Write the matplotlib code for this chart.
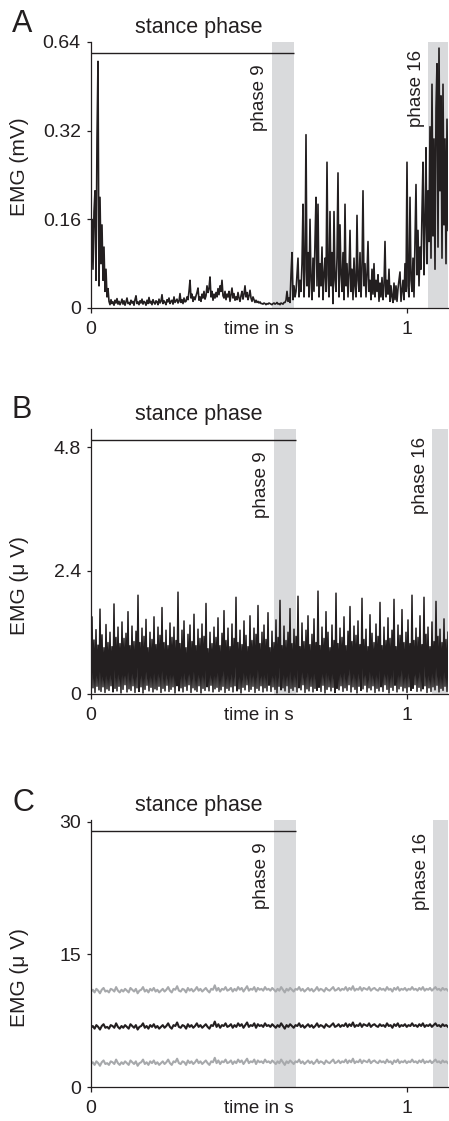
import numpy as np
import matplotlib
matplotlib.use("Agg")
import matplotlib.pyplot as plt

plt.rcParams["font.family"] = ["Liberation Sans", "DejaVu Sans"]

# ---- data ----
t_end = 1.13  # s, right edge of the time axis

# panel A: EMG in mV, one sample every ~3 ms
emg_a = [
    0.12, 0.16, 0.07, 0.17, 0.20, 0.05, 0.30, 0.55, 0.04, 0.19,
    0.08, 0.15, 0.05, 0.11, 0.03, 0.07, 0.02, 0.035,
    0.012, 0.006, 0.015, 0.008, 0.011, 0.005, 0.014, 0.009, 0.017, 0.007,
    0.012, 0.006, 0.010, 0.016, 0.007, 0.013, 0.005, 0.011, 0.018, 0.008,
    0.010, 0.006, 0.014, 0.009, 0.012, 0.005, 0.015, 0.022, 0.008, 0.011,
    0.006, 0.013, 0.009, 0.016, 0.007, 0.012, 0.010, 0.005, 0.014, 0.008,
    0.019, 0.009, 0.012, 0.006, 0.015, 0.010, 0.007, 0.013, 0.011, 0.006,
    0.016, 0.009, 0.012, 0.024, 0.008, 0.013, 0.010, 0.006, 0.015, 0.011,
    0.018, 0.008, 0.012, 0.014, 0.007, 0.020, 0.010, 0.013, 0.016, 0.009,
    0.012, 0.026, 0.010, 0.015, 0.008, 0.018, 0.011,
    0.012, 0.02, 0.015, 0.03, 0.05, 0.018, 0.025, 0.012, 0.02, 0.015,
    0.022, 0.028, 0.036, 0.014, 0.02, 0.012, 0.025, 0.018, 0.03, 0.016,
    0.022, 0.04, 0.028, 0.035, 0.056, 0.02, 0.03, 0.014, 0.025, 0.018,
    0.028, 0.02, 0.035, 0.024, 0.04, 0.03, 0.05, 0.022, 0.018, 0.03,
    0.015, 0.025, 0.02, 0.03, 0.012, 0.024, 0.036, 0.018, 0.026, 0.014,
    0.02, 0.015, 0.028, 0.018, 0.012, 0.022, 0.03, 0.016, 0.025, 0.04,
    0.02, 0.028, 0.015, 0.022, 0.032, 0.018, 0.012, 0.02, 0.015, 0.01,
    0.014, 0.01, 0.012, 0.009, 0.011, 0.008,
    0.008, 0.007, 0.009, 0.008, 0.006, 0.008, 0.007, 0.009, 0.008, 0.007,
    0.006, 0.008, 0.009, 0.007, 0.008, 0.01, 0.007, 0.008, 0.006, 0.009,
    0.008, 0.007, 0.01,
    0.01, 0.014, 0.03, 0.012, 0.018, 0.01, 0.06, 0.10,
    0.015, 0.04, 0.02,
    0.03, 0.06, 0.09, 0.02, 0.05, 0.03, 0.08, 0.18, 0.02, 0.07,
    0.31, 0.04, 0.1, 0.02, 0.16, 0.05, 0.015, 0.09, 0.03, 0.12,
    0.19, 0.04, 0.18, 0.02, 0.08, 0.04, 0.11, 0.015, 0.06, 0.09,
    0.03, 0.25, 0.06, 0.02, 0.17, 0.04, 0.1, 0.008, 0.17, 0.05,
    0.03, 0.09, 0.23, 0.02, 0.15, 0.06, 0.03, 0.1, 0.015, 0.18,
    0.04, 0.08, 0.02, 0.06, 0.14, 0.03, 0.07, 0.015, 0.09, 0.04,
    0.02, 0.165, 0.05, 0.03, 0.1, 0.02, 0.07, 0.2, 0.04, 0.08,
    0.02, 0.06, 0.12, 0.03, 0.05, 0.015, 0.07, 0.025, 0.08, 0.02,
    0.05, 0.03, 0.06, 0.012, 0.045, 0.02, 0.055, 0.015, 0.04, 0.12,
    0.02, 0.05, 0.025, 0.07, 0.012, 0.04, 0.02, 0.01, 0.045, 0.015,
    0.04, 0.012, 0.035, 0.05, 0.065, 0.012,
    0.03, 0.05, 0.015, 0.08, 0.03, 0.25, 0.04, 0.02, 0.19, 0.05,
    0.03, 0.09, 0.02, 0.12, 0.21,
    0.06, 0.14, 0.04, 0.11, 0.07, 0.17, 0.25, 0.06, 0.15, 0.28,
    0.08, 0.2, 0.12, 0.33, 0.09, 0.46, 0.13, 0.3, 0.07, 0.38,
    0.54, 0.11, 0.61, 0.2, 0.42, 0.09, 0.46, 0.15, 0.3, 0.08,
    0.35, 0.14,
]

# panel B: EMG in uV
emg_b = [
    0.06, 1.50, 0.12, 1.05, 0.03, 1.25, 0.15, 0.95, 0.08, 1.65, 0.05, 1.15, 0.14, 0.90, 0.03, 1.35, 0.10, 1.00, 0.07, 1.20,
    0.16, 0.92, 0.04, 1.75, 0.11, 1.10, 0.06, 1.30, 0.15, 0.98, 0.02, 1.40, 0.09, 1.08, 0.18, 1.18, 0.04, 1.60, 0.10, 0.94,
    0.07, 1.32, 0.16, 1.02, 0.03, 1.22, 0.12, 1.92, 0.05, 1.00, 0.14, 1.28, 0.02, 1.12, 0.09, 1.45, 0.17, 0.90, 0.06, 1.20,
    0.13, 1.06, 0.04, 1.50, 0.10, 0.96, 0.08, 1.30, 0.15, 1.14, 0.03, 1.68, 0.11, 1.00, 0.06, 1.24, 0.17, 0.94, 0.05, 1.38,
    0.09, 1.10, 0.14, 1.30, 0.02, 1.04, 0.16, 1.98, 0.06, 0.98, 0.12, 1.24, 0.04, 1.42, 0.15, 0.90, 0.07, 1.16, 0.18, 1.34,
    0.03, 1.02, 0.12, 1.55, 0.08, 0.94, 0.05, 1.26, 0.16, 1.08, 0.02, 1.36, 0.11, 1.12, 0.07, 1.76, 0.14, 0.88, 0.06, 1.20,
    0.17, 0.98, 0.04, 1.30, 0.10, 1.10, 0.13, 1.48, 0.05, 0.94, 0.08, 1.18, 0.15, 1.62, 0.03, 1.04, 0.11, 1.28, 0.07, 0.92,
    0.14, 1.36, 0.04, 1.08, 0.16, 1.88, 0.06, 1.00, 0.10, 1.24, 0.02, 0.96, 0.13, 1.42, 0.08, 1.14, 0.18, 0.92, 0.05, 1.52,
    0.09, 1.04, 0.15, 1.28, 0.03, 1.16, 0.11, 1.72, 0.07, 0.98, 0.16, 1.20, 0.04, 1.34, 0.12, 1.06, 0.06, 1.58, 0.17, 0.90,
    0.05, 1.22, 0.14, 1.00, 0.09, 1.44, 0.02, 1.10, 0.15, 1.82, 0.08, 0.94, 0.12, 1.32, 0.06, 1.04, 0.16, 1.20, 0.03, 1.66,
    0.11, 0.98, 0.07, 1.26, 0.14, 1.12, 0.04, 1.90, 0.12, 0.92, 0.08, 1.38, 0.18, 1.02, 0.03, 1.24, 0.10, 1.52, 0.06, 0.96,
    0.15, 1.16, 0.04, 1.46, 0.11, 1.00, 0.07, 2.00, 0.13, 0.94, 0.05, 1.30, 0.17, 1.08, 0.02, 1.60, 0.09, 1.20, 0.14, 0.90,
    0.06, 1.34, 0.13, 1.04, 0.03, 1.96, 0.11, 0.98, 0.08, 1.28, 0.16, 1.10, 0.05, 1.50, 0.12, 0.94, 0.07, 1.22, 0.18, 1.70,
    0.04, 1.02, 0.14, 1.32, 0.09, 1.14, 0.02, 1.42, 0.15, 0.96, 0.07, 1.86, 0.10, 1.06, 0.17, 1.26, 0.04, 0.92, 0.12, 1.54,
    0.08, 1.18, 0.16, 1.00, 0.03, 1.36, 0.11, 1.12, 0.06, 1.78, 0.14, 0.94, 0.05, 1.30, 0.18, 1.04, 0.09, 1.48, 0.02, 1.08,
    0.13, 1.24, 0.07, 1.84, 0.17, 0.92, 0.04, 1.34, 0.10, 1.14, 0.15, 1.64, 0.06, 1.00, 0.12, 1.20, 0.03, 1.44, 0.14, 0.98,
    0.07, 1.92, 0.11, 1.04, 0.18, 1.28, 0.05, 1.10, 0.13, 1.52, 0.06, 0.96, 0.10, 1.88, 0.16, 1.16, 0.03, 1.30, 0.12, 0.92,
    0.05, 1.40, 0.14, 1.02, 0.08, 1.80, 0.17, 1.12, 0.04, 1.26, 0.11, 1.00, 0.07, 1.46, 0.15, 1.06, 0.05, 1.20,
]

# panel C: mean EMG in uV, plus/minus one SD
emg_c_mean = [
    6.7, 6.9, 6.6, 7.0, 6.8, 6.5, 6.9, 7.1, 6.7, 6.8, 6.6, 7.0, 6.9, 6.7, 7.2, 6.8, 6.6, 6.9, 6.7, 7.0,
    6.8, 6.6, 7.1, 6.9, 6.7, 7.0, 6.5, 6.8, 6.9, 7.2, 6.7, 6.9, 6.6, 7.0, 6.8, 7.1, 6.7, 6.9, 6.6, 6.8,
    7.0, 6.7, 6.9, 7.2, 6.8, 6.6, 7.0, 6.9, 7.3, 6.8, 6.7, 7.0, 6.9, 6.6, 7.1, 6.8, 7.0, 6.7, 6.9, 7.2,
    6.8, 7.0, 6.7, 6.9, 7.1, 6.8, 6.6, 7.0, 6.9, 7.4, 6.8, 7.1, 6.7, 7.0, 6.9, 7.2, 6.8, 6.9, 7.1, 6.7,
    7.0, 6.8, 7.2, 6.9, 7.1, 6.7, 7.0, 7.3, 6.8, 7.0, 6.9, 7.2, 6.7, 7.1, 6.9, 7.0, 6.8, 7.2, 6.9, 7.0,
    6.8, 7.1, 6.9, 6.7, 7.0, 6.8, 7.2, 6.9, 6.6, 7.0, 6.8, 7.1, 6.9, 6.7, 7.0, 6.9, 7.2, 6.8, 7.0, 6.7,
    6.9, 7.1, 6.8, 7.0, 6.7, 6.9, 7.2, 6.8, 7.0, 6.9, 6.7, 7.1, 6.9, 6.8, 7.0, 7.2, 6.8, 6.9, 7.1, 6.8,
    7.0, 6.9, 7.2, 6.8, 7.1, 6.9, 7.3, 6.8, 7.0, 6.9, 7.2, 6.8, 7.1, 7.0, 6.9, 7.2, 6.8, 7.0, 7.1, 6.9,
    6.8, 7.1, 6.9, 7.0, 6.8, 7.2, 6.9, 7.0, 6.7, 7.1, 6.9, 7.2, 6.8, 7.0, 6.9, 7.1, 6.8, 7.0, 6.9, 7.2,
    6.9, 7.0, 6.8, 7.1, 6.9, 7.2, 6.8, 7.0, 6.9, 7.1, 6.8, 7.0, 7.2, 6.9, 7.0, 6.8, 7.1, 6.9, 7.0, 6.8,
]
emg_c_sd = 4.1

# phase 9 window and phase 16 start (s), per panel
phase9 = [(0.573, 0.642), (0.579, 0.649), (0.579, 0.649)]
phase16 = [1.066, 1.079, 1.082]

ylims = [(0, 0.64), (0, 5.15), (0, 30.2)]
yticks = [[0, 0.16, 0.32, 0.64], [0, 2.4, 4.8], [0, 15, 30]]
ytick_labels = [["0", "0.16", "0.32", "0.64"], ["0", "2.4", "4.8"], ["0", "15", "30"]]
ylabels = ["EMG (mV)", "EMG (\u03bc V)", "EMG (\u03bc V)"]
ylabel_pos = [0.53, 0.41, 0.41]
phase16_top = [0.97, 0.97, 0.95]
letters = ["A", "B", "C"]

trace_col = "#231f20"
shade_col = "#d9dadc"
sd_col = "#a7a9ac"


# A uses a linear part up to 0.16 and doubling steps above
def fwd(v):
    v = np.asarray(v, dtype=float)
    return np.where(v <= 0.16, v / 0.16, 1 + np.log2(np.maximum(v, 1e-9) / 0.16))


def inv(y):
    y = np.asarray(y, dtype=float)
    return np.where(y <= 1, y * 0.16, 0.16 * 2 ** (y - 1))


fig = plt.figure(figsize=(4.49, 11.21), dpi=100)
W, H = 449, 1121
boxes = [(42, 308), (429, 694), (820, 1087)]  # top, bottom in px
letter_y = [32, 418, 811]

for k, (top, bot) in enumerate(boxes):
    ax = fig.add_axes([91 / W, 1 - bot / H, 357 / W, (bot - top) / H])

    if k == 0:
        ax.set_yscale("function", functions=(fwd, inv))
    ax.set_xlim(0, t_end)
    ax.set_ylim(*ylims[k])

    # shaded phases
    p9a, p9b = phase9[k]
    ax.axvspan(p9a, p9b, color=shade_col, lw=0, zorder=0)
    ax.axvspan(phase16[k], t_end, color=shade_col, lw=0, zorder=0)

    # traces
    if k == 0:
        t = np.linspace(0, t_end, len(emg_a))
        ax.plot(t, emg_a, color=trace_col, lw=1.2, zorder=2)
    elif k == 1:
        t = np.linspace(0, t_end, len(emg_b))
        ax.plot(t, emg_b, color=trace_col, lw=1.1, zorder=2)
    else:
        m = np.array(emg_c_mean)
        t = np.linspace(0, t_end, len(m))
        ax.plot(t, m + emg_c_sd, color=sd_col, lw=1.5, zorder=2)
        ax.plot(t, m - emg_c_sd, color=sd_col, lw=1.5, zorder=2)
        ax.plot(t, m, color=trace_col, lw=1.5, zorder=3)

    tr = ax.get_xaxis_transform()
    # stance phase bar
    ax.hlines(0.96, 0, p9b, transform=tr, color=trace_col, lw=1.0, zorder=3)
    ax.text(0.34, 1.034, "stance phase", transform=tr, ha="center",
            va="baseline", fontsize=15.5, color=trace_col)
    ax.text(p9a - 0.012, 0.915, "phase 9", transform=tr, rotation=90,
            ha="right", va="top", fontsize=13.5, color=trace_col)
    ax.text(phase16[k] - 0.01, phase16_top[k], "phase 16", transform=tr,
            rotation=90, ha="right", va="top", fontsize=13.5, color=trace_col)

    # axes styling
    for s in ["top", "right"]:
        ax.spines[s].set_visible(False)
    for s in ["left", "bottom"]:
        ax.spines[s].set_linewidth(0.9)
        ax.spines[s].set_color(trace_col)
    ax.set_yticks(yticks[k])
    ax.set_yticklabels(ytick_labels[k])
    ax.set_xticks([0, 1])
    ax.set_xticklabels(["0", "1"])
    ax.tick_params(axis="y", direction="out", length=3, width=0.9, pad=4.3,
                   labelsize=14, colors=trace_col)
    ax.tick_params(axis="x", direction="out", length=3.5, width=0.9, pad=5.9,
                   labelsize=14, colors=trace_col)
    ax.minorticks_off()

    ax.set_xlabel("time in s", fontsize=13.5, color=trace_col)
    ax.xaxis.set_label_coords(0.47, -13 / (bot - top))
    ax.text(-0.199, ylabel_pos[k], ylabels[k], transform=ax.transAxes,
            rotation=90, ha="center", va="center", fontsize=15, color=trace_col)

    fig.text(12 / W, 1 - letter_y[k] / H, letters[k], fontsize=22,
             ha="left", va="baseline", color=trace_col)

fig.savefig("out.png", dpi=100)
